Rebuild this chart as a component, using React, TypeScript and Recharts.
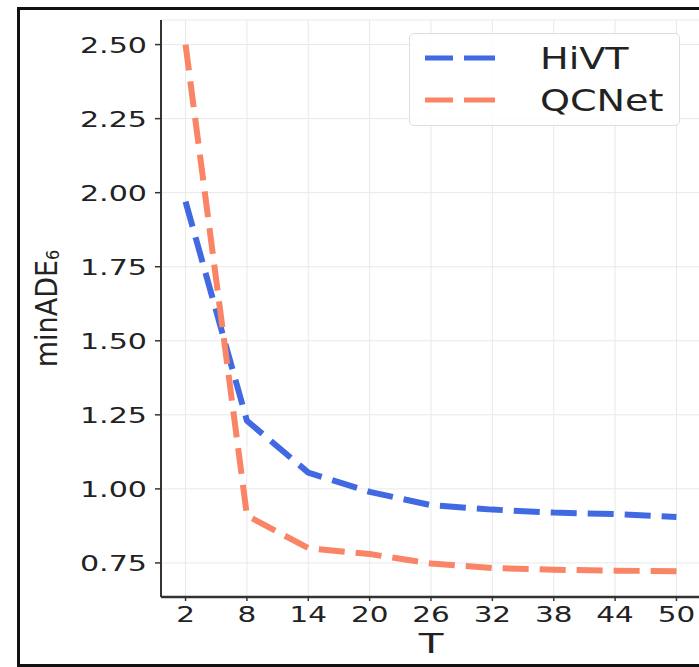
import { LineChart, Line, XAxis, YAxis, CartesianGrid, Legend } from 'recharts'

// prediction horizon T and minADE6 readings
const horizons = [2, 8, 14, 20, 26, 32, 38, 44, 50]
const hivt = [1.97, 1.23, 1.055, 0.99, 0.945, 0.93, 0.92, 0.915, 0.905]
const qcnet = [2.5, 0.91, 0.8, 0.78, 0.748, 0.733, 0.727, 0.724, 0.722]
const yTicks = [0.75, 1.0, 1.25, 1.5, 1.75, 2.0, 2.25, 2.5]

const data = horizons.map((t, i) => ({ T: t, HiVT: hivt[i], QCNet: qcnet[i] }))

const BLUE = '#4169e1'
const SALMON = '#f98466'
const FONT = '"DejaVu Sans", sans-serif'
const STRETCH = 1.37
const X_DOMAIN: [number, number] = [-0.4, 52.4]

function YTick({ x, y, payload }: any) {
  return (
    <text
      transform={`translate(${x},${y}) scale(${STRETCH},1)`}
      textAnchor="end"
      dy="0.36em"
      fontSize={22}
      fill="#222"
      fontFamily={FONT}
    >
      {Number(payload.value).toFixed(2)}
    </text>
  )
}

function XTick({ x, y, payload }: any) {
  return (
    <text
      transform={`translate(${x},${y}) scale(${STRETCH},1)`}
      textAnchor="middle"
      dy="0.88em"
      fontSize={21.5}
      fill="#222"
      fontFamily={FONT}
    >
      {payload.value}
    </text>
  )
}

function XLabel({ viewBox }: any) {
  const cx = viewBox.x + viewBox.width / 2
  return (
    <text
      transform={`translate(${cx},${viewBox.y + 56}) scale(1.5,1)`}
      textAnchor="middle"
      fontSize={27}
      fill="#222"
      fontFamily={FONT}
    >
      T
    </text>
  )
}

function YLabel({ viewBox }: any) {
  const cy = viewBox.y + viewBox.height / 2
  return (
    <text
      transform={`translate(57,${cy}) rotate(-90) scale(1,1.12)`}
      textAnchor="middle"
      fontSize={27}
      fill="#222"
      fontFamily={FONT}
    >
      minADE
      <tspan fontSize={16} dy={2}>
        6
      </tspan>
    </text>
  )
}

function LegendBox({ payload }: any) {
  const items = payload || []
  return (
    <div
      style={{
        width: 271,
        height: 93,
        boxSizing: 'border-box',
        border: '1px solid #dedede',
        borderRadius: 5,
        background: 'rgba(255,255,255,0.85)',
      }}
    >
      <svg width={269} height={91} style={{ display: 'block' }}>
        {items.map((entry: any, i: number) => {
          const cy = 24 + i * 42
          return (
            <g key={entry.value}>
              <line
                x1={15}
                x2={85}
                y1={cy}
                y2={cy}
                stroke={entry.color}
                strokeWidth={5}
                strokeDasharray="28 11 31"
              />
              <text
                transform={`translate(130,${cy + 11}) scale(1.27,1)`}
                fontSize={30}
                fill="#222"
                fontFamily={FONT}
              >
                {entry.value}
              </text>
            </g>
          )
        })}
      </svg>
    </div>
  )
}

export default function App() {
  return (
    <div style={{ position: 'fixed', left: 0, top: 0, width: 699, height: 667, overflow: 'hidden', background: '#fff' }}>
      <div
        style={{
          position: 'absolute',
          left: 17,
          top: 7,
          width: 720,
          height: 660,
          boxSizing: 'border-box',
          border: '3px solid #111',
        }}
      />
      <div style={{ position: 'absolute', left: 0, top: 0 }}>
        <LineChart width={702} height={667} data={data} margin={{ top: 20, right: 1, bottom: 20, left: 0 }}>
          <CartesianGrid stroke="#e9e9e9" strokeWidth={1} />
          <XAxis
            dataKey="T"
            type="number"
            domain={X_DOMAIN}
            ticks={horizons}
            height={50}
            tickSize={4}
            tickMargin={2}
            tick={<XTick />}
            axisLine={{ stroke: '#333', strokeWidth: 2.5 }}
            tickLine={{ stroke: '#333', strokeWidth: 1.5 }}
            label={(p: any) => <XLabel {...p} />}
          />
          <XAxis
            xAxisId="top"
            orientation="top"
            dataKey="T"
            type="number"
            domain={X_DOMAIN}
            height={0}
            tick={false}
            tickLine={false}
            axisLine={{ stroke: '#333', strokeWidth: 2 }}
          />
          <YAxis
            type="number"
            domain={[0.635, 2.583]}
            ticks={yTicks}
            width={161}
            tickSize={6}
            tickMargin={8}
            tick={<YTick />}
            axisLine={{ stroke: '#333', strokeWidth: 2 }}
            tickLine={{ stroke: '#333', strokeWidth: 1.5 }}
            label={(p: any) => <YLabel {...p} />}
          />
          <Line
            dataKey="HiVT"
            name="HiVT"
            stroke={BLUE}
            strokeWidth={6}
            strokeDasharray="26 11"
            strokeLinejoin="round"
            dot={false}
            isAnimationActive={false}
          />
          <Line
            dataKey="QCNet"
            name="QCNet"
            stroke={SALMON}
            strokeWidth={6}
            strokeDasharray="26 11"
            strokeLinejoin="round"
            dot={false}
            isAnimationActive={false}
          />
          <Legend
            layout="vertical"
            verticalAlign="middle"
            align="center"
            content={(p: any) => <LegendBox {...p} />}
            wrapperStyle={{ left: 409, top: 33, width: 271, height: 93 }}
          />
        </LineChart>
      </div>
    </div>
  )
}
